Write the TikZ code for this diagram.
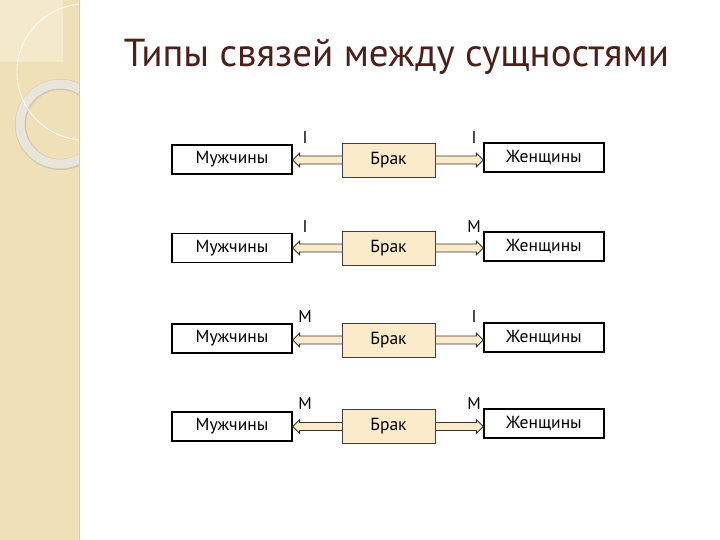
\documentclass[tikz,border=0pt]{standalone}
\usepackage{fontspec}
\setmainfont{PT Sans}
\usetikzlibrary{calc}
\definecolor{strip}{HTML}{EFE0B8}
\definecolor{stripl}{HTML}{F4EACB}
\definecolor{stripedge}{HTML}{D9CCA6}
\definecolor{ringc}{HTML}{E9E5DA}
\definecolor{ringedge}{HTML}{CFC6AE}
\definecolor{titlec}{HTML}{4A2018}
\definecolor{brakfill}{HTML}{FBEBCB}
\begin{document}
\begin{tikzpicture}[x=1pt,y=-1pt,
  entbox/.style={draw=black, line width=1.3pt, fill=white, minimum width=120pt, minimum height=29pt, inner sep=0pt, font=\fontsize{17.5}{20}\selectfont},
  brakbox/.style={draw=black!75, line width=0.9pt, fill=brakfill, minimum width=93pt, minimum height=34pt, inner sep=0pt, font=\fontsize{17.5}{20}\selectfont},
  lbl/.style={inner sep=0pt, font=\fontsize{17}{20}\selectfont},
  blockarrow/.style={draw=black!80, line width=0.9pt, fill=brakfill, line join=miter},
  titlestyle/.style={inner sep=0pt, anchor=base, text=titlec, font=\fontsize{39}{46}\selectfont}]
\useasboundingbox (0,0) rectangle (720,540);
\fill[white] (0,0) rectangle (720,540);
% left decorative strip
\fill[strip] (0,0) rectangle (79,540);
\fill[stripl] (0,0) rectangle (63,62);
\begin{scope}
  \clip (0,0) rectangle (79,540);
  \draw[ringedge, line width=11pt] (60.5,124.5) circle[radius=40];
  \draw[ringc, line width=9pt] (60,124) circle[radius=40];
  \draw[white, line width=0.9pt] (85,72) circle[radius=68];
\end{scope}
\draw[stripedge, line width=1.5pt] (79.5,0) -- (79.5,540);
% title
\node[titlestyle] (title) at (396.5,67) {Типы связей между сущностями};
% rows
\foreach \i/\ym/\yb/\yw/\ltxt/\rtxt/\yl in {1/159.5/160/157.5/I/I/137.5, 2/248/248/246.5/I/M/226.5, 3/338.5/340/337.5/M/I/317, 4/426.5/426.5/423.5/M/M/404}{
  \node[entbox] (m\i) at (232,\ym) {Мужчины};
  \node[entbox] (w\i) at (544,\yw) {Женщины};
  \coordinate (L\i) at (m\i.east |- 0,\yb);
  \coordinate (R\i) at (w\i.west |- 0,\yb);
  \draw[blockarrow] (L\i) -- ($(L\i)+(7,-7)$) -- ($(L\i)+(7,-4)$) -- ($(R\i)+(-7,-4)$) -- ($(R\i)+(-7,-7)$) -- (R\i)
     -- ($(R\i)+(-7,7)$) -- ($(R\i)+(-7,4)$) -- ($(L\i)+(7,4)$) -- ($(L\i)+(7,7)$) -- cycle;
  \node[brakbox] (b\i) at (388.5,\yb) {Брак};
  \node[lbl] (ll\i) at (305,\yl) {\ltxt};
  \node[lbl] (rl\i) at (474,\yl) {\rtxt};
}
\end{tikzpicture}
\end{document}
